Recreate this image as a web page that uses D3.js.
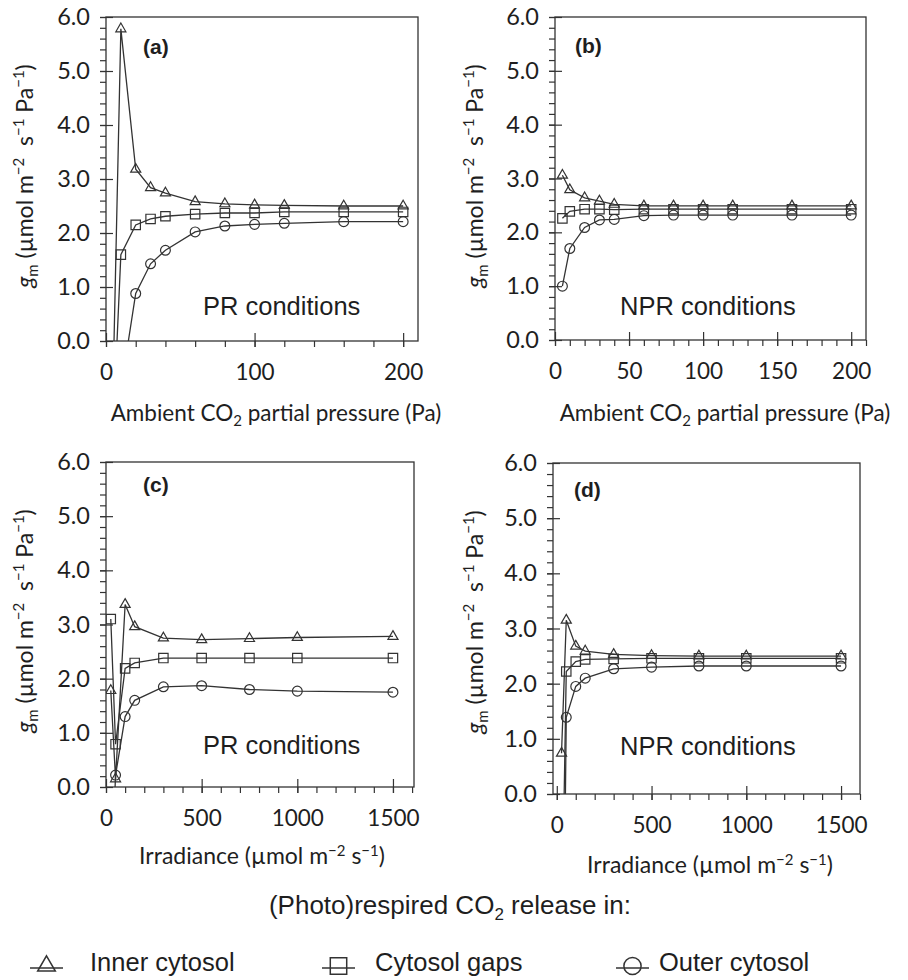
<!DOCTYPE html>
<html>
<head>
<meta charset="utf-8">
<script src="https://cdn.jsdelivr.net/npm/d3@7"></script>
<style>
body{margin:0;background:#fff}
svg text{fill:#1e1e1e}
.lato{font-family:Lato,"Open Sans",sans-serif}
.arial{font-family:"Liberation Sans",Arial,sans-serif}
</style>
</head>
<body>
<svg id="fig" width="908" height="980"></svg>
<script>
// x values (Pa for CO2 panels, umol m-2 s-1 for irradiance panels)
var co2PR = [5, 10, 20, 30, 40, 60, 80, 100, 120, 160, 200];
var co2NPR = [5, 10, 20, 30, 40, 60, 80, 100, 120, 160, 200];
var irrPR = [25, 50, 100, 150, 300, 500, 750, 1000, 1500];
var irrNPR = [25, 50, 100, 150, 300, 500, 750, 1000, 1500];

// gm values, panel (a) PR, CO2 response
var innerA = [-0.5, 5.78, 3.18, 2.84, 2.74, 2.58, 2.54, 2.52, 2.51, 2.50, 2.50];
var gapsA  = [-1.5, 1.60, 2.15, 2.26, 2.31, 2.35, 2.37, 2.37, 2.39, 2.39, 2.39];
var outerA = [-3.0, -0.9, 0.88, 1.43, 1.68, 2.02, 2.13, 2.16, 2.18, 2.21, 2.21];
// panel (b) NPR, CO2 response
var innerB = [3.06, 2.79, 2.64, 2.58, 2.52, 2.49, 2.49, 2.49, 2.49, 2.49, 2.49];
var gapsB  = [2.26, 2.39, 2.43, 2.43, 2.42, 2.43, 2.43, 2.43, 2.43, 2.43, 2.43];
var outerB = [1.00, 1.70, 2.09, 2.23, 2.24, 2.31, 2.32, 2.32, 2.32, 2.32, 2.32];
// panel (c) PR, light response
var innerC = [1.78, 0.15, 3.37, 2.96, 2.75, 2.72, 2.74, 2.76, 2.78];
var gapsC  = [3.10, 0.79, 2.19, 2.29, 2.38, 2.38, 2.38, 2.38, 2.38];
var outerC = [-2.0, 0.22, 1.30, 1.60, 1.85, 1.87, 1.80, 1.77, 1.75];
// panel (d) NPR, light response
var innerD = [0.74, 3.15, 2.68, 2.59, 2.53, 2.51, 2.50, 2.50, 2.50];
var gapsD  = [-2.8, 2.22, 2.40, 2.44, 2.45, 2.46, 2.46, 2.46, 2.46];
var outerD = [-6.5, 1.39, 1.95, 2.10, 2.27, 2.30, 2.32, 2.32, 2.32];

var yMajor = [0, 1, 2, 3, 4, 5, 6];
var seriesNames = ['Inner cytosol', 'Cytosol gaps', 'Outer cytosol'];
var markerTypes = ['triangle', 'square', 'circle'];

var ink = '#333';
var svg = d3.select('#fig');

function symbolPath(type, scale) {
    scale = scale || 1;
    if (type == 'triangle') return d3.symbol().type(d3.symbolTriangle).size(44 * scale * scale)();
    if (type == 'square') return d3.symbol().type(d3.symbolSquare).size(88 * scale * scale)();
    return d3.symbol().type(d3.symbolCircle).size(76 * scale * scale)();
}

function cleanAxis(sel) {
    sel.select('.domain').remove();
    sel.selectAll('line').attr('stroke', ink).attr('stroke-width', 1.2);
}

function co2Title(g, cx, by) {
    var t = g.append('text').attr('class', 'lato').attr('x', cx).attr('y', by)
        .attr('text-anchor', 'middle').style('font-size', '22.5px');
    t.append('tspan').text('Ambient CO');
    t.append('tspan').attr('dy', 5).style('font-size', '15px').text('2');
    t.append('tspan').attr('dy', -5).text(' partial pressure (Pa)');
}

function irrTitle(g, cx, by) {
    var t = g.append('text').attr('class', 'lato').attr('x', cx).attr('y', by)
        .attr('text-anchor', 'middle').style('font-size', '23px');
    t.append('tspan').text('Irradiance (\u00b5mol m');
    t.append('tspan').attr('dy', -8).style('font-size', '15px').text('\u22122');
    t.append('tspan').attr('dy', 8).text(' s');
    t.append('tspan').attr('dy', -8).style('font-size', '15px').text('\u22121');
    t.append('tspan').attr('dy', 8).text(')');
}

function gmTitle(g, bx, cy) {
    var t = g.append('text').attr('class', 'lato')
        .attr('transform', 'translate(' + bx + ',' + cy + ') rotate(-90)')
        .attr('text-anchor', 'middle').style('font-size', '23px');
    t.append('tspan').style('font-style', 'italic').text('g');
    t.append('tspan').attr('dy', 5).style('font-size', '15px').text('m');
    t.append('tspan').attr('dy', -5).text(' (\u00b5mol m');
    t.append('tspan').attr('dy', -9).style('font-size', '15px').text('\u22122');
    t.append('tspan').attr('dy', 9).text('\u00a0\u00a0s');
    t.append('tspan').attr('dy', -9).style('font-size', '15px').text('\u22121');
    t.append('tspan').attr('dy', 9).text(' Pa');
    t.append('tspan').attr('dy', -9).style('font-size', '15px').text('\u22121');
    t.append('tspan').attr('dy', 9).text(')');
}

function drawPanel(p) {
    var g = svg.append('g').attr('class', 'panel-' + p.id);
    var x = d3.scaleLinear().domain(p.xDomain).range([p.left, p.right]);
    var y = d3.scaleLinear().domain([0, 6]).range([p.bottom, p.top]);

    // minor y ticks every 0.2
    g.append('g').attr('transform', 'translate(' + p.left + ',0)')
        .call(d3.axisLeft(y).tickValues(d3.range(0, 31).map(function (i) { return i * 0.2; })).tickSize(6).tickFormat(''))
        .call(cleanAxis);
    // major y ticks + labels, ticks cross the axis
    var ya = g.append('g').attr('transform', 'translate(' + p.left + ',0)')
        .call(d3.axisLeft(y).tickValues(yMajor).tickSize(6).tickPadding(10).tickFormat(d3.format('.1f')))
        .call(cleanAxis);
    ya.selectAll('line').attr('x2', -6).attr('x1', 7);
    ya.selectAll('text').attr('class', 'lato').style('font-size', '23.5px').attr('fill', '#1e1e1e');

    // minor x ticks
    var minor = d3.range(p.xMinorFrom, p.xDomain[1] + 0.01, p.xMinorStep);
    g.append('g').attr('transform', 'translate(0,' + p.bottom + ')')
        .call(d3.axisBottom(x).tickValues(minor).tickSize(6).tickFormat(''))
        .call(cleanAxis);
    var xa = g.append('g').attr('transform', 'translate(0,' + p.bottom + ')')
        .call(d3.axisBottom(x).tickValues(p.xMajor).tickSize(6).tickPadding(17).tickFormat(d3.format('d')))
        .call(cleanAxis);
    xa.selectAll('line').attr('y1', -8).attr('y2', 6);
    xa.selectAll('text').attr('class', 'lato').style('font-size', '22.5px').attr('fill', '#1e1e1e');

    // frame
    g.append('rect').attr('x', p.left).attr('y', p.top)
        .attr('width', p.right - p.left).attr('height', p.bottom - p.top)
        .attr('fill', 'none').attr('stroke', ink).attr('stroke-width', 1.3);

    // clipped data area
    g.append('clipPath').attr('id', 'clip-' + p.id).append('rect')
        .attr('x', p.left).attr('y', p.top - 8)
        .attr('width', p.right - p.left + 8).attr('height', p.bottom - p.top + 8);
    var plot = g.append('g').attr('clip-path', 'url(#clip-' + p.id + ')');

    var line = d3.line().x(function (d) { return x(d.x); }).y(function (d) { return y(d.v); });

    p.series.forEach(function (vals, si) {
        var pts = p.xs.map(function (xv, i) { return { x: xv, v: vals[i] }; });
        plot.append('path').datum(pts).attr('d', line)
            .attr('fill', 'none').attr('stroke', ink).attr('stroke-width', 1.3);
        plot.selectAll('.m' + si).data(pts.filter(function (d) { return d.v >= 0; })).enter()
            .append('path').attr('class', 'm' + si)
            .attr('transform', function (d) { return 'translate(' + x(d.x) + ',' + y(d.v) + ')'; })
            .attr('d', symbolPath(markerTypes[si]))
            .attr('fill', 'none').attr('stroke', ink).attr('stroke-width', 1.2);
    });

    g.append('text').attr('class', 'arial').attr('x', p.tagX).attr('y', p.tagY)
        .style('font-size', '21px').style('font-weight', 'bold').text(p.tag);
    g.append('text').attr('class', 'arial').attr('x', p.condX).attr('y', p.condY)
        .style('font-size', '25.5px').text(p.cond);

    gmTitle(g, p.gmX, p.gmY);
    if (p.kind == 'co2') co2Title(g, p.titleX, p.titleY);
    else irrTitle(g, p.titleX, p.titleY);
}

var panels = [
    { id: 'a', kind: 'co2', left: 106, right: 418, top: 17, bottom: 341, xDomain: [0, 210],
      xMajor: [0, 100, 200], xMinorFrom: 0, xMinorStep: 20, xs: co2PR, series: [innerA, gapsA, outerA],
      tag: '(a)', tagX: 143, tagY: 54, cond: 'PR conditions', condX: 203, condY: 315,
      gmX: 33, gmY: 176, titleX: 276, titleY: 421 },
    { id: 'b', kind: 'co2', left: 555, right: 866, top: 17, bottom: 340, xDomain: [0, 210],
      xMajor: [0, 50, 100, 150, 200], xMinorFrom: 0, xMinorStep: 10, xs: co2NPR, series: [innerB, gapsB, outerB],
      tag: '(b)', tagX: 575, tagY: 53, cond: 'NPR conditions', condX: 620, condY: 315,
      gmX: 483, gmY: 176, titleX: 725, titleY: 421 },
    { id: 'c', kind: 'irr', left: 106, right: 414, top: 462, bottom: 787, xDomain: [0, 1610],
      xMajor: [0, 500, 1000, 1500], xMinorFrom: 0, xMinorStep: 100, xs: irrPR, series: [innerC, gapsC, outerC],
      tag: '(c)', tagX: 143, tagY: 492, cond: 'PR conditions', condX: 203, condY: 754,
      gmX: 33, gmY: 621, titleX: 262, titleY: 864 },
    { id: 'd', kind: 'irr', left: 553, right: 860, top: 463, bottom: 794, xDomain: [-20, 1600],
      xMajor: [0, 500, 1000, 1500], xMinorFrom: 0, xMinorStep: 100, xs: irrNPR, series: [innerD, gapsD, outerD],
      tag: '(d)', tagX: 574, tagY: 497, cond: 'NPR conditions', condX: 620, condY: 755,
      gmX: 483, gmY: 622, titleX: 710, titleY: 873 }
];

panels.forEach(drawPanel);

// legend
var lt = svg.append('text').attr('class', 'arial').attr('x', 450).attr('y', 914)
    .attr('text-anchor', 'middle').style('font-size', '26px');
lt.append('tspan').text('(Photo)respired CO');
lt.append('tspan').attr('dy', 6).style('font-size', '17px').text('2');
lt.append('tspan').attr('dy', -6).text(' release in:');

var legendX = [30, 322, 616];
var legendTextX = [90, 375, 659];
var leg = svg.append('g').selectAll('g').data(seriesNames).enter().append('g');
leg.append('line')
    .attr('x1', function (d, i) { return legendX[i]; })
    .attr('x2', function (d, i) { return legendX[i] + 33; })
    .attr('y1', 968).attr('y2', 968)
    .attr('stroke', ink).attr('stroke-width', 1.5);
leg.append('path')
    .attr('transform', function (d, i) { return 'translate(' + (legendX[i] + 16.5) + ',966)'; })
    .attr('d', function (d, i) { return symbolPath(markerTypes[i], 1.75); })
    .attr('fill', 'none').attr('stroke', ink).attr('stroke-width', 1.5);
leg.append('text').attr('class', 'arial')
    .attr('x', function (d, i) { return legendTextX[i]; }).attr('y', 971)
    .style('font-size', '25.5px').text(function (d) { return d; });
</script>
</body>
</html>
